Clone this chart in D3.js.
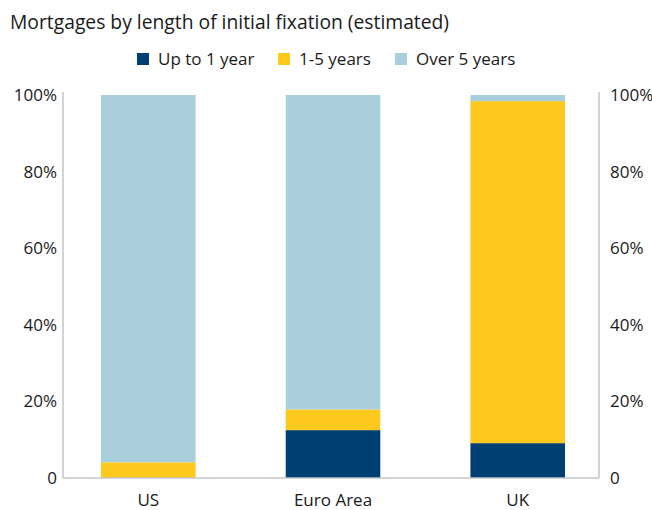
<!DOCTYPE html>
<html>
<head>
<meta charset="utf-8">
<script src="https://cdn.jsdelivr.net/npm/d3@7"></script>
<style>
  body { margin: 0; background: #fff; }
  text { font-family: "Open Sans", "DejaVu Sans", sans-serif; fill: #1a1a1a; }
</style>
</head>
<body>
<div id="viz"><svg></svg></div>
<script>
// data
const categories = ['US', 'Euro Area', 'UK'];
const seriesNames = ['Up to 1 year', '1-5 years', 'Over 5 years'];
const upTo1 = [0, 12.5, 9.1];
const oneTo5 = [4.1, 5.4, 89.3];
const over5 = [95.9, 82.1, 1.6];
const yTicks = [0, 20, 40, 60, 80, 100];

const COLOR = ['#003f72', '#fdc91c', '#a9cfdd'];
const width = 652, height = 510;
const margin = {top: 95, right: 53, bottom: 31, left: 63};

let svg = d3.select('#viz').select('svg')
    .attr('width', width)
    .attr('height', height);

let rows = categories.map((c, i) => ({cat: c, a: upTo1[i], b: oneTo5[i], c: over5[i]}));
let stack = d3.stack().keys(['a', 'b', 'c'])(rows);

let x = d3.scaleBand()
    .domain(categories)
    .range([margin.left + 2, width - margin.right + 2])
    .paddingInner(0.488)
    .paddingOuter(0.195);

let y = d3.scaleLinear()
    .domain([0, 100])
    .range([height - margin.bottom - 1, margin.top]);

// bars
svg.selectAll('.layer')
    .data(stack)
    .enter()
    .append('g')
    .attr('class', 'layer')
    .attr('fill', (d, i) => COLOR[i])
    .selectAll('rect')
    .data(d => d)
    .enter()
    .append('rect')
    .attr('x', d => x(d.data.cat))
    .attr('y', d => y(d[1]))
    .attr('width', x.bandwidth())
    .attr('height', d => y(d[0]) - y(d[1]));

// axes frame lines
const axisColor = '#c3c6ca';
svg.append('line')
    .attr('x1', margin.left).attr('x2', margin.left)
    .attr('y1', y(100) - 3).attr('y2', y(0))
    .attr('stroke', axisColor).attr('stroke-width', 1.5);
svg.append('line')
    .attr('x1', width - margin.right).attr('x2', width - margin.right)
    .attr('y1', y(100) - 3).attr('y2', y(0))
    .attr('stroke', axisColor).attr('stroke-width', 1.5);
svg.append('line')
    .attr('x1', margin.left).attr('x2', width - margin.right)
    .attr('y1', y(0)).attr('y2', y(0))
    .attr('stroke', axisColor).attr('stroke-width', 1.5);

const fmt = d => d === 0 ? '0' : d + '%';

// left tick labels
svg.selectAll('.ltick')
    .data(yTicks)
    .enter()
    .append('text')
    .attr('class', 'ltick')
    .attr('x', margin.left - 6)
    .attr('y', d => y(d))
    .attr('dy', '0.35em')
    .attr('text-anchor', 'end')
    .attr('font-size', 17)
    .text(fmt);

// right tick labels
svg.selectAll('.rtick')
    .data(yTicks)
    .enter()
    .append('text')
    .attr('class', 'rtick')
    .attr('x', width - margin.right + 11)
    .attr('y', d => y(d))
    .attr('dy', '0.35em')
    .attr('text-anchor', 'start')
    .attr('font-size', 17)
    .text(fmt);

// category labels
svg.selectAll('.cat')
    .data(categories)
    .enter()
    .append('text')
    .attr('class', 'cat')
    .attr('x', d => x(d) + x.bandwidth() / 2)
    .attr('y', 506)
    .attr('text-anchor', 'middle')
    .attr('font-size', 17)
    .text(d => d);

// title
svg.append('text')
    .attr('x', 10)
    .attr('y', 29)
    .attr('font-size', 19.3)
    .text('Mortgages by length of initial fixation (estimated)');

// legend
const legendX = [137, 278, 395];
let lg = svg.selectAll('.legend')
    .data(seriesNames)
    .enter()
    .append('g')
    .attr('class', 'legend')
    .attr('transform', (d, i) => `translate(${legendX[i]},53)`);
lg.append('rect')
    .attr('width', 12).attr('height', 12)
    .attr('fill', (d, i) => COLOR[i]);
lg.append('text')
    .attr('x', 21)
    .attr('y', 6)
    .attr('dy', '0.36em')
    .attr('font-size', 17)
    .text(d => d);
</script>
</body>
</html>
